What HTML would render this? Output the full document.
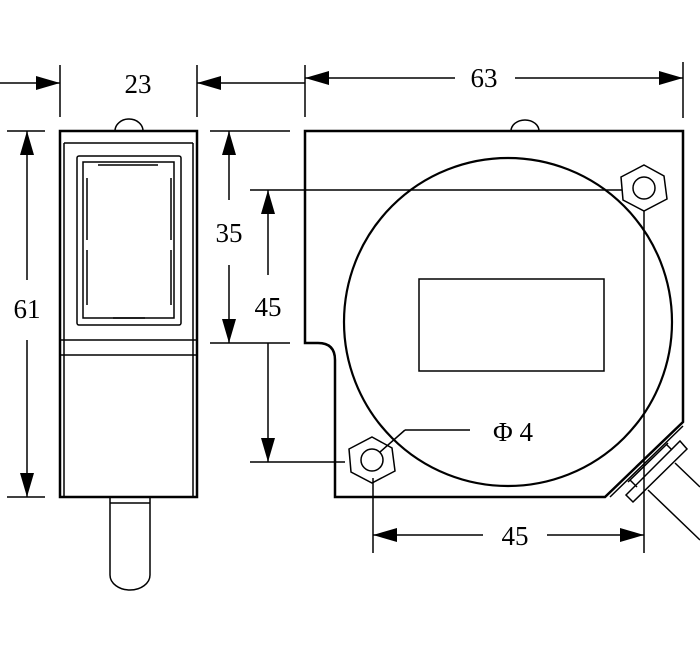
<!DOCTYPE html>
<html><head><style>body{margin:0;background:#fff}svg{display:block}text{font-family:"Liberation Serif",serif;font-size:27px;fill:#000}</style></head><body>
<svg width="700" height="650" viewBox="0 0 700 650" xmlns="http://www.w3.org/2000/svg">
<defs>
<marker id="a" viewBox="0 0 24 14" refX="24" refY="7" markerWidth="24" markerHeight="14" markerUnits="userSpaceOnUse" orient="auto"><path d="M0,0 L24,7 L0,14 Z" fill="#000"/></marker>
</defs>
<g stroke="#000" stroke-width="1.5" fill="none">
<line x1="0" y1="83" x2="60" y2="83" marker-end="url(#a)"/>
<line x1="60" y1="65" x2="60" y2="117"/>
<line x1="197" y1="65" x2="197" y2="117"/>
<line x1="305" y1="83" x2="197" y2="83" marker-end="url(#a)"/>
<line x1="305" y1="65" x2="305" y2="117"/>
<line x1="455" y1="78" x2="305" y2="78" marker-end="url(#a)"/>
<line x1="515" y1="78" x2="683" y2="78" marker-end="url(#a)"/>
<line x1="683" y1="62" x2="683" y2="118"/>
<line x1="7" y1="131" x2="45" y2="131"/>
<line x1="7" y1="497" x2="45" y2="497"/>
<line x1="27" y1="280" x2="27" y2="131" marker-end="url(#a)"/>
<line x1="27" y1="340" x2="27" y2="497" marker-end="url(#a)"/>
<line x1="210" y1="131" x2="290" y2="131"/>
<line x1="210" y1="343" x2="290" y2="343"/>
<line x1="229" y1="200" x2="229" y2="131" marker-end="url(#a)"/>
<line x1="229" y1="265" x2="229" y2="343" marker-end="url(#a)"/>
<line x1="250" y1="190" x2="622" y2="190"/>
<line x1="250" y1="462" x2="345" y2="462"/>
<line x1="268" y1="275" x2="268" y2="190" marker-end="url(#a)"/>
<line x1="268" y1="343" x2="268" y2="462" marker-end="url(#a)"/>
<rect x="60" y="131" width="137" height="366" stroke-width="2.5"/>
<line x1="64" y1="143" x2="193" y2="143"/>
<line x1="64" y1="143" x2="64" y2="497"/>
<line x1="193" y1="143" x2="193" y2="497"/>
<line x1="60" y1="340" x2="197" y2="340"/>
<line x1="60" y1="355" x2="197" y2="355"/>
<rect x="77" y="156" width="104" height="169" rx="2"/>
<rect x="83" y="162" width="91" height="156"/>
<line x1="87" y1="178" x2="87" y2="240"/><line x1="87" y1="250" x2="87" y2="305"/>
<line x1="171" y1="178" x2="171" y2="240"/><line x1="171" y1="250" x2="171" y2="305"/>
<line x1="98" y1="165" x2="158" y2="165"/><line x1="113" y1="318" x2="145" y2="318"/>
<path d="M115,131 A14,12 0 0 1 143,131"/>
<path d="M110,497 V575 A20,15 0 0 0 150,575 V497"/>
<line x1="110" y1="503" x2="150" y2="503"/>
<path d="M305,131 H683 V422 L605,497 H335 V360 Q335,343 318,343 H305 Z" stroke-width="2.5"/>
<path d="M511,131 A14,11 0 0 1 539,131"/>
<circle cx="508" cy="322" r="164" stroke-width="2.2"/>
<rect x="419" y="279" width="185" height="92"/>
<polygon points="644,165 664,176 667,199 644,211 623,200 621,177"/>
<circle cx="644" cy="188" r="11"/>
<polygon points="372,437 392,448 395,471 372,483 351,472 349,449"/>
<circle cx="372" cy="460" r="11"/>
<line x1="380" y1="452" x2="405" y2="430"/><line x1="405" y1="430" x2="470" y2="430"/>
<line x1="644" y1="211" x2="644" y2="553"/>
<line x1="373" y1="478" x2="373" y2="553"/>
<line x1="483" y1="535" x2="373" y2="535" marker-end="url(#a)"/>
<line x1="547" y1="535" x2="644" y2="535" marker-end="url(#a)"/>
<line x1="610" y1="497" x2="683" y2="426"/>
<polygon points="626,495 680,441 687,449 633,502"/>
<line x1="628" y1="482" x2="668" y2="443"/>
<line x1="630" y1="480" x2="637" y2="487"/><line x1="666" y1="444" x2="672" y2="450"/>
<line x1="675" y1="463" x2="700" y2="487"/>
<line x1="648" y1="490" x2="700" y2="540"/>
</g>
<g text-anchor="middle">
<text x="138" y="93">23</text>
<text x="484" y="87">63</text>
<text x="27" y="318">61</text>
<text x="229" y="242">35</text>
<text x="268" y="316">45</text>
<text x="515" y="545">45</text>
<text x="513" y="441">Φ 4</text>
</g>
</svg>
</body></html>
